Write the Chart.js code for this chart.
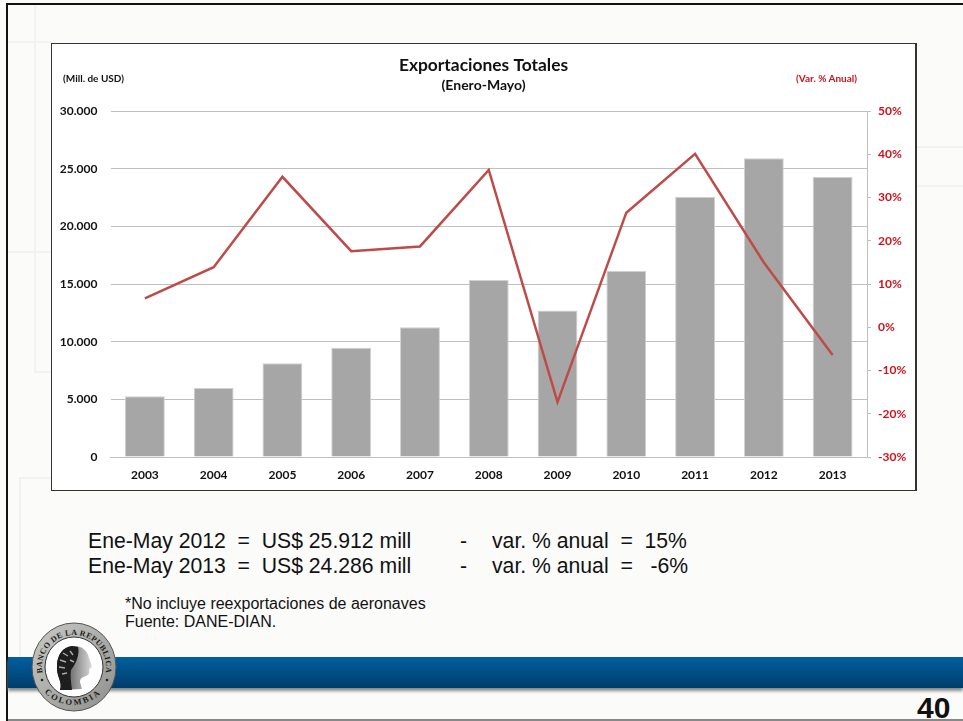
<!DOCTYPE html>
<html>
<head>
<meta charset="utf-8">
<title>Exportaciones Totales</title>
<script src="https://cdn.jsdelivr.net/npm/chart.js@4"></script>
<style>
  html, body { margin: 0; padding: 0; }
  body { width: 963px; height: 721px; overflow: hidden; background: #fbfbfa; position: relative; font-family: "Liberation Sans", Arial, sans-serif; color: #111; }
  .abs { position: absolute; white-space: pre; }
  .faint { position: absolute; background: #f2f2f1; }
  #frame { position: absolute; left: 51px; top: 43px; width: 863px; height: 446px; background: #fff; border: 1px solid #333; border-width: 1px 2px 1px 1px; }
  #frame canvas { position: absolute; left: 0; top: 0; }
  .note { font-size: 21.2px; line-height: 24px; }
  .small { font-size: 16px; line-height: 18px; }
  .unit { font-family: Lato, sans-serif; font-weight: 700; font-size: 10px; }
  #band { position: absolute; left: 8px; right: 0; top: 657px; height: 31px; background: linear-gradient(#00609f, #003d6c); box-shadow: 0 3px 3px #888; }
</style>
</head>
<body>
<div style="position:absolute;left:6px;top:3px;right:0;height:2px;background:#111"></div>
<div style="position:absolute;left:6px;top:3px;bottom:0;width:2px;background:#111"></div>
<div style="position:absolute;left:8px;right:0;bottom:0;height:2px;background:#888"></div>

<div class="faint" style="left:34px;top:5px;width:2px;height:368px"></div>
<div class="faint" style="left:34px;top:371px;width:18px;height:2px"></div>
<div class="faint" style="left:8px;top:41px;width:44px;height:2px"></div>
<div class="faint" style="left:8px;top:251px;width:44px;height:2px"></div>
<div class="faint" style="left:19px;top:477px;width:33px;height:2px"></div>
<div class="faint" style="left:19px;top:477px;width:2px;height:180px"></div>
<div class="faint" style="left:916px;top:146px;width:47px;height:2px"></div>
<div class="faint" style="left:916px;top:185px;width:47px;height:2px"></div>

<div id="frame"><canvas id="export-chart" width="863" height="446"></canvas></div>
<div class="abs unit" style="left:63px;top:72px">(Mill. de USD)</div>
<div class="abs unit" style="left:796px;top:72px;color:#d0121b">(Var. % Anual)</div>

<div class="abs note" style="left:88px;top:529px">Ene-May 2012  =  US$ 25.912 mill</div>
<div class="abs note" style="left:88px;top:554px">Ene-May 2013  =  US$ 24.286 mill</div>
<div class="abs note" style="left:460px;top:529px">-</div>
<div class="abs note" style="left:460px;top:554px">-</div>
<div class="abs note" style="left:492px;top:529px">var. % anual  =  15%</div>
<div class="abs note" style="left:492px;top:554px">var. % anual  =   -6%</div>
<div class="abs small" style="left:125px;top:595px">*No incluye reexportaciones de aeronaves</div>
<div class="abs small" style="left:125px;top:613px">Fuente: DANE-DIAN.</div>

<div id="band"></div>
<div class="abs" style="left:917px;top:691px;font-size:30px;font-weight:700;line-height:34px">40</div>

<svg class="abs" style="left:30px;top:620px" width="90" height="94" viewBox="0 0 90 94">
  <defs>
    <path id="arcTop" d="M 13.1 55.3 A 32 32 0 1 1 74.9 55.3"></path>
    <path id="arcBottom" d="M 14 72 A 39 39 0 0 0 72 72"></path>
    <linearGradient id="ring" x1="0" y1="0" x2="1" y2="1">
      <stop offset="0" stop-color="#c9c9c6"></stop>
      <stop offset="1" stop-color="#8f8f8c"></stop>
    </linearGradient>
    <linearGradient id="face" x1="0" y1="0" x2="1" y2="0">
      <stop offset="0" stop-color="#333"></stop>
      <stop offset="1" stop-color="#d8d8d8"></stop>
    </linearGradient>
  </defs>
  <ellipse cx="44" cy="47" rx="42" ry="44" fill="url(#ring)" stroke="#555"></ellipse>
  <ellipse cx="44" cy="47" rx="29" ry="30" fill="#fff" stroke="#333"></ellipse>
  <text font-family="Liberation Serif" font-weight="700" font-size="8" fill="#1c1c1c" letter-spacing="0.4"><textPath href="#arcTop" startOffset="50%" text-anchor="middle">BANCO DE LA REPUBLICA</textPath></text>
  <text font-family="Liberation Serif" font-weight="700" font-size="8.5" fill="#1c1c1c" letter-spacing="2"><textPath href="#arcBottom" startOffset="50%" text-anchor="middle">COLOMBIA</textPath></text>
  <circle cx="12" cy="60" r="1.3" fill="#222"></circle>
  <circle cx="77" cy="60" r="1.3" fill="#222"></circle>
  <path d="M 42 26 C 52 25 58 31 59 38 C 60 42 63 46 61 48 L 59 49 C 60 52 59 55 56 56 C 53 57 50 58 50 62 L 52 69 L 30 70 C 33 62 26 56 27 46 C 27 35 33 27 42 26 Z" fill="url(#face)"></path>
  <path d="M 42 26 C 33 27 27 35 27 46 C 26 56 33 62 30 70 L 42 70 C 41 62 40 56 41 50 C 46 44 50 34 48 27 Z" fill="#1e1e1e"></path>
  <path d="M 33 33 l 5 3 M 30 40 l 6 2 M 29 47 l 6 1 M 32 54 l 5 -1 M 40 31 l 3 4 M 40 40 l 4 2" stroke="#aaa" stroke-width="1.4" fill="none"></path>
</svg>

<script>
const years = ['2003', '2004', '2005', '2006', '2007', '2008', '2009', '2010', '2011', '2012', '2013'];
const exportsMusd = [5260, 5980, 8120, 9470, 11250, 15360, 12700, 16130, 22580, 25912, 24286];
const annualVarPct = [6.7, 13.9, 34.8, 17.6, 18.7, 36.4, -17.3, 26.5, 40.1, 15, -6.4];
const leftTicks = [0, 5000, 10000, 15000, 20000, 25000, 30000];
const rightTicks = [-30, -20, -10, 0, 10, 20, 30, 40, 50];

const labelFont = { family: 'Lato', weight: '700', size: 12 };

new Chart(document.getElementById('export-chart'), {
  type: 'bar',
  data: {
    labels: years,
    datasets: [
      {
        type: 'line',
        label: 'Var. % Anual',
        data: annualVarPct,
        yAxisID: 'yVar',
        borderColor: '#be4b48',
        borderWidth: 2.5,
        pointRadius: 0,
        tension: 0,
        order: 1,
      },
      {
        label: 'Mill. de USD',
        data: exportsMusd,
        yAxisID: 'yUsd',
        backgroundColor: '#a6a6a6',
        borderColor: '#d0d0d0',
        borderWidth: 1,
        barPercentage: 0.58,
        categoryPercentage: 1,
        order: 2,
      },
    ],
  },
  options: {
    responsive: false,
    animation: false,
    layout: { padding: 0 },
    plugins: {
      legend: { display: false },
      tooltip: { enabled: false },
      title: {
        display: true,
        text: 'Exportaciones Totales',
        color: '#111',
        font: { family: 'Lato', weight: '700', size: 17.4 },
        padding: { top: 11, bottom: 1 },
      },
      subtitle: {
        display: true,
        text: '(Enero-Mayo)',
        color: '#111',
        font: { family: 'Lato', weight: '700', size: 14 },
        padding: { bottom: 17.4 },
      },
    },
    scales: {
      x: {
        grid: { display: false },
        border: { color: '#bfbfbf' },
        ticks: { color: '#111', font: labelFont, padding: 3, maxRotation: 0 },
        afterFit: function (scale) { scale.height = 33; },
      },
      yUsd: {
        position: 'left',
        min: 0,
        max: 30000,
        afterBuildTicks: function (scale) {
          scale.ticks = leftTicks.map(function (v) { return { value: v }; });
        },
        grid: { color: '#bfbfbf', lineWidth: 1, drawTicks: false },
        border: { display: false },
        ticks: {
          color: '#111',
          font: labelFont,
          padding: 13,
          callback: function (v) { return v === 0 ? '0' : v.toLocaleString('de-DE'); },
        },
        afterFit: function (scale) { scale.width = 58.5; },
      },
      yVar: {
        position: 'right',
        min: -30,
        max: 50,
        afterBuildTicks: function (scale) {
          scale.ticks = rightTicks.map(function (v) { return { value: v }; });
        },
        grid: { drawOnChartArea: false, color: '#bfbfbf', tickLength: 4 },
        border: { color: '#bfbfbf' },
        ticks: {
          color: '#d0121b',
          font: labelFont,
          padding: 7,
          callback: function (v) { return v + '%'; },
        },
        afterFit: function (scale) { scale.width = 48; },
      },
    },
  },
});
</script>
</body>
</html>
